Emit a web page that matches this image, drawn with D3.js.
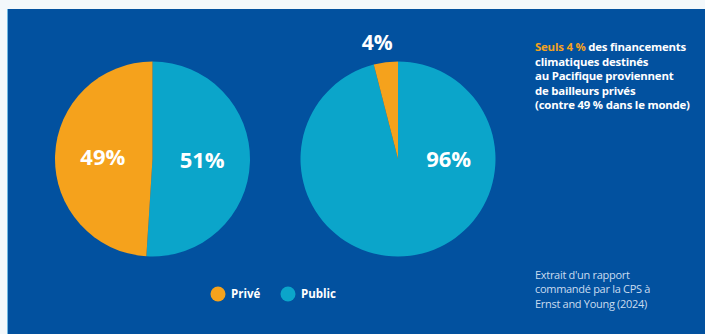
<!DOCTYPE html>
<html>
<head>
<meta charset="utf-8">
<script src="https://cdn.jsdelivr.net/npm/d3@7"></script>
<style>
  html, body { margin: 0; padding: 0; background: #f3f8fb; }
  svg { display: block; font-family: "Open Sans", sans-serif; }
</style>
</head>
<body>
<svg id="chart"></svg>
<script>
// data
const categories = ["Privé", "Public"];
const worldValues = [49, 51];     // pie left
const pacificValues = [4, 96];    // pie right
const colors = ["#f5a21c", "#0ba5ca"];

const noteLines = [
  [["Seuls 4 %", true], [" des financements", false]],
  [["climatiques destinés", false]],
  [["au Pacifique proviennent", false]],
  [["de bailleurs privés", false]],
  [["(contre 49 % dans le monde)", false]]
];
const sourceLines = ["Extrait d'un rapport", "commandé par la CPS à", "Ernst and Young (2024)"];

const W = 705, H = 334;
const svg = d3.select("#chart").attr("width", W).attr("height", H);

// light page background + blue panel
svg.append("rect").attr("width", W).attr("height", H).attr("fill", "#f3f8fb");
svg.append("rect").attr("x", 7).attr("y", 9).attr("width", W - 7).attr("height", H - 9)
  .attr("fill", "#02519f");
svg.append("rect").attr("x", 7).attr("y", 9).attr("width", 1).attr("height", H - 9)
  .attr("fill", "#6fb9e3");

const radius = 97.5;
const pie = d3.pie().sort(null).value(d => d.value);
const arc = d3.arc().innerRadius(0).outerRadius(radius);
const labelArc = d3.arc().innerRadius(radius * 0.51).outerRadius(radius * 0.51);

// Public first (clockwise from 12 o'clock), then Privé
function toData(values) {
  return categories.map((c, i) => ({cat: c, value: values[i], color: colors[i]})).reverse();
}

function drawPie(cx, cy, values) {
  const g = svg.append("g").attr("transform", `translate(${cx},${cy})`);
  const arcs = pie(toData(values));
  g.selectAll("path").data(arcs).enter().append("path")
    .attr("d", arc)
    .attr("fill", d => d.data.color);

  arcs.forEach(d => {
    const span = d.endAngle - d.startAngle;
    let x, y, size = 22;
    if (d.data.value < 10) {
      // small slice: label outside, above
      const mid = (d.startAngle + d.endAngle) / 2;
      x = Math.sin(mid) * (radius + 20) - 6;
      y = -Math.cos(mid) * (radius + 20);
      size = 21;
    } else if (span > Math.PI * 1.2) {
      x = radius * 0.52; y = 0;
    } else {
      [x, y] = labelArc.centroid(d);
    }
    g.append("text")
      .attr("x", x).attr("y", y).attr("dy", "0.36em")
      .attr("text-anchor", "middle")
      .attr("fill", "#fff")
      .attr("font-weight", 700)
      .attr("font-size", size)
      .text(d.data.value + "%");
  });
}

drawPie(152.5, 159, worldValues);
drawPie(398, 159, pacificValues);

// legend
const legend = svg.append("g").attr("transform", "translate(218,294)");
const item = legend.selectAll("g").data(categories).enter().append("g")
  .attr("transform", (d, i) => `translate(${i * 70},0)`);
item.append("circle").attr("r", 7.5).attr("fill", (d, i) => colors[i]);
item.append("text")
  .attr("x", 13).attr("dy", "0.35em")
  .attr("fill", "#fff").attr("font-weight", 700).attr("font-size", 11.5)
  .text(d => d);

// note text
const note = svg.append("text").attr("x", 535).attr("y", 51)
  .attr("font-size", 11.4).attr("font-weight", 700).attr("fill", "#fff")
  .attr("letter-spacing", -0.2);
noteLines.forEach((line, i) => {
  line.forEach(([t, hi], j) => {
    const ts = note.append("tspan").text(t).attr("fill", hi ? "#f5a21c" : "#fff");
    if (j === 0) ts.attr("x", 535).attr("dy", i === 0 ? 0 : 14.6);
  });
});

// source text
const src = svg.append("text").attr("x", 535).attr("y", 279)
  .attr("font-size", 11).attr("fill", "#c9dcf0").attr("letter-spacing", -0.3);
sourceLines.forEach((t, i) => {
  src.append("tspan").attr("x", 535).attr("dy", i === 0 ? 0 : 14.3).text(t);
});
</script>
</body>
</html>
